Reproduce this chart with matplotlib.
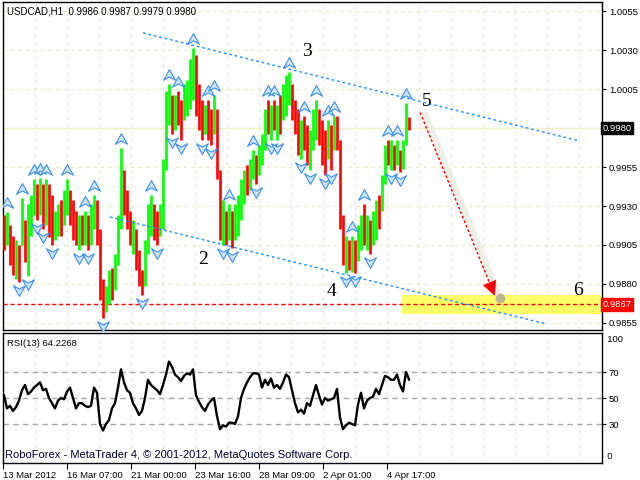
import numpy as np
import matplotlib
matplotlib.use('Agg')
import matplotlib.pyplot as plt
from matplotlib.path import Path
from matplotlib.markers import MarkerStyle
import matplotlib.transforms as mtransforms

# ---------------- data ----------------
symbol = "USDCAD,H1"
last_ohlc = [0.9986, 0.9987, 0.9979, 0.9980]

highs = [0.9924, 0.9926, 0.9918, 0.9911, 0.9908, 0.9905, 0.9935, 0.9921, 0.9931, 0.9937,
         0.9947, 0.9944, 0.9948, 0.9944, 0.9947, 0.9944, 0.9937, 0.9927, 0.9931, 0.9934,
         0.9940, 0.9947, 0.9940, 0.9934, 0.9927, 0.9924, 0.9924, 0.9927, 0.9924, 0.9931,
         0.9937, 0.9934, 0.9915, 0.9883, 0.9879, 0.9889, 0.9890, 0.9899, 0.9924, 0.9967,
         0.9953, 0.9940, 0.9927, 0.9921, 0.9915, 0.9902, 0.9889, 0.9908, 0.9931, 0.9937,
         0.9931, 0.9927, 0.9931, 0.9960, 1.0004, 1.0008, 1.0001, 1.0001, 1.0004, 0.9998,
         1.0008, 1.0011, 1.0024, 1.0031, 1.0027, 1.0008, 0.9998, 0.9995, 0.9998, 0.9992,
         1.0001, 0.9992, 0.9953, 0.9934, 0.9927, 0.9931, 0.9927, 0.9931, 0.9937, 0.9947,
         0.9953, 0.9956, 0.9960, 0.9966, 0.9963, 0.9969, 0.9976, 0.9992, 0.9998, 0.9995,
         0.9998, 0.9995, 1.0001, 1.0008, 1.0014, 1.0016, 1.0008, 0.9998, 0.9992, 0.9985,
         0.9988, 0.9982, 0.9979, 0.9992, 0.9998, 0.9992, 0.9985, 0.9979, 0.9985, 0.9982,
         0.9988, 0.9988, 0.9972, 0.9924, 0.9911, 0.9908, 0.9911, 0.9908, 0.9918, 0.9924,
         0.9931, 0.9924, 0.9921, 0.9927, 0.9934, 0.9937, 0.9950, 0.9969, 0.9972, 0.9972,
         0.9969, 0.9972, 0.9966, 0.9972, 0.9996, 0.9987]

lows = [0.9902, 0.9905, 0.9892, 0.9886, 0.9883, 0.9881, 0.9905, 0.9894, 0.9885, 0.9911,
        0.9924, 0.9921, 0.9924, 0.9915, 0.9918, 0.9910, 0.9905, 0.9908, 0.9911, 0.9911,
        0.9918, 0.9924, 0.9918, 0.9908, 0.9905, 0.9902, 0.9905, 0.9905, 0.9902, 0.9905,
        0.9915, 0.9905, 0.9870, 0.9858, 0.9862, 0.9867, 0.9870, 0.9876, 0.9892, 0.9915,
        0.9924, 0.9915, 0.9905, 0.9899, 0.9889, 0.9879, 0.9873, 0.9879, 0.9899, 0.9911,
        0.9908, 0.9905, 0.9911, 0.9915, 0.9953, 0.9982, 0.9976, 0.9979, 0.9982, 0.9972,
        0.9985, 0.9988, 0.9992, 0.9998, 0.9988, 0.9979, 0.9972, 0.9976, 0.9972, 0.9969,
        0.9976, 0.9947, 0.9908, 0.9905, 0.9905, 0.9908, 0.9903, 0.9908, 0.9911, 0.9921,
        0.9931, 0.9937, 0.9940, 0.9947, 0.9944, 0.9950, 0.9956, 0.9966, 0.9976, 0.9972,
        0.9979, 0.9972, 0.9976, 0.9985, 0.9988, 0.9995, 0.9985, 0.9976, 0.9963, 0.9960,
        0.9966, 0.9956, 0.9953, 0.9966, 0.9972, 0.9969, 0.9956, 0.9950, 0.9960, 0.9953,
        0.9966, 0.9966, 0.9915, 0.9892, 0.9887, 0.9889, 0.9888, 0.9887, 0.9895, 0.9902,
        0.9905, 0.9902, 0.9899, 0.9905, 0.9908, 0.9915, 0.9927, 0.9944, 0.9956, 0.9953,
        0.9953, 0.9956, 0.9952, 0.9954, 0.9969, 0.9979]

# G = bullish bar, R = bearish bar
bar_dirs = ("RGRRGRGRGG" "GRGRGRRGGR" "GGRRRGRGRG" "GRRRGGRGGG" "RRRGRRRGGG"
            "RRGGGGRGRR" "GGGGRRRGRR" "GRRGRGRGGG" "GRGGRGGGRG" "RGRGGGRRRG"
            "RRGGGRRRGR" "GRRRGRGRGG" "RGRGGRGGRG" "RGRGGR")

rsi = [52, 42, 44, 40, 43, 48, 56, 60, 53, 55,
       58, 60, 62, 56, 57, 50, 46, 42, 48, 50,
       49, 55, 58, 50, 42, 46, 46, 44, 43, 44,
       58, 54, 30, 25, 30, 33, 42, 46, 58, 72,
       62, 56, 54, 46, 42, 37, 40, 50, 64, 60,
       58, 56, 53, 60, 68, 78, 74, 68, 66, 63,
       67, 69, 68, 72, 52, 47, 43, 40, 45, 48,
       50, 36, 26, 29, 28, 31, 31, 30, 36, 50,
       57, 62, 66, 69, 69, 68, 58, 64, 60, 65,
       58, 60, 57, 62, 68, 66, 56, 46, 39, 41,
       38, 46, 44, 52, 60, 52, 45, 50, 48, 49,
       50, 57, 35, 26, 29, 31, 30, 29, 45, 54,
       42, 48, 50, 51, 57, 53, 60, 67, 66, 64,
       64, 68, 60, 55, 70, 64.2268]
rsi_period = 13
rsi_levels = [30, 50, 70]

time_labels = ["13 Mar 2012", "16 Mar 07:00", "21 Mar 00:00", "23 Mar 16:00",
               "28 Mar 09:00", "2 Apr 01:00", "4 Apr 17:00"]
price_levels = [1.0055, 1.0030, 1.0005, 0.9980, 0.9955, 0.9930, 0.9905, 0.9880, 0.9855]

target_level = 0.9867
target_zone = [0.9861, 0.9873]
target_zone_start = 132.7

upper_channel_x = [46.3, 191.3]
upper_channel_y = [1.0041, 0.9972]
lower_channel_x = [35.3, 181.0]
lower_channel_y = [0.9923, 0.98543]
forecast_x = [138.7, 163.6]
forecast_y = [0.9990, 0.98725]

wave_labels = ["2", "3", "4", "5", "6"]
wave_x = [66.3, 101.0, 109.3, 141.0, 191.3]
wave_y = [0.9896, 1.0029, 0.9875, 0.9997, 0.9876]

# ---------------- figure ----------------
plt.rcParams['font.family'] = ['Liberation Sans', 'DejaVu Sans']
small = 6.8

fig = plt.figure(figsize=(6.4, 4.8), dpi=100)
ax = fig.add_axes([3 / 640, 150 / 480, 599 / 640, 328 / 480])
ax2 = fig.add_axes([3 / 640, 17 / 480, 599 / 640, 130 / 480])

n = len(highs)
x = np.arange(n)
xmin, xmax = -1 / 3, 598 / 3
label_step = 64 / 3
grid_pos = np.arange(19) * label_step / 2 - 1 / 3
tick_pos = np.arange(len(time_labels)) * label_step - 1 / 3

grid_col = '#EDEBCF'
for a in (ax, ax2):
    a.set_xlim(xmin, xmax)
    for gx in grid_pos:
        a.axvline(gx, color=grid_col, lw=0.9, ls=(0, (3, 3)), zorder=0)
    for s in a.spines.values():
        s.set_color('black')
        s.set_linewidth(1.0)

# main panel
ax.set_ylim(0.98505, 1.00608)
for lv in price_levels:
    ax.axhline(lv, color=grid_col, lw=0.9, ls=(0, (3, 3)), zorder=0)
ax.axhline(last_ohlc[3], color='#F3EFC4', lw=1.0, zorder=0.5)

# target zone
ax.fill_between([target_zone_start, xmax], target_zone[0], target_zone[1],
                color='#FFFF66', lw=0, zorder=1)
ax.axhline(target_level, color='#FF0000', lw=1.0, ls=(0, (3, 2)), zorder=2)

# bars
cols = ['#00FF00' if d == 'G' else '#FF0000' for d in bar_dirs]
ax.vlines(x, lows, highs, colors=cols, lw=1.9, zorder=3)

# fractals
up_path = Path([(0, 0.5), (0.5, -0.4), (0, -0.12), (-0.5, -0.4), (0, 0.5)],
               [Path.MOVETO, Path.LINETO, Path.LINETO, Path.LINETO, Path.CLOSEPOLY])
dn_path = Path([(0, -0.5), (0.5, 0.4), (0, 0.12), (-0.5, 0.4), (0, -0.5)],
               [Path.MOVETO, Path.LINETO, Path.LINETO, Path.LINETO, Path.CLOSEPOLY])
h = np.array(highs)
l = np.array(lows)
up_idx = [i for i in range(1, n - 1) if h[i] > h[i - 1] and h[i] >= h[i + 1]]
dn_idx = [i for i in range(1, n - 1) if l[i] < l[i - 1] and l[i] <= l[i + 1]]
tr_up = mtransforms.offset_copy(ax.transData, fig=fig, y=9, units='dots')
tr_dn = mtransforms.offset_copy(ax.transData, fig=fig, y=-8, units='dots')
ax.plot(x[up_idx], h[up_idx], ls='none', marker=MarkerStyle(up_path), ms=8.5,
        mfc='#CFE6FF', mec='#3C8FEA', mew=0.8, transform=tr_up, zorder=4)
ax.plot(x[dn_idx], l[dn_idx], ls='none', marker=MarkerStyle(dn_path), ms=8.5,
        mfc='#CFE6FF', mec='#3C8FEA', mew=0.8, transform=tr_dn, zorder=4)

# channel lines
ax.plot(upper_channel_x, upper_channel_y, color='#1E90FF', lw=1.0, ls=(0, (2, 2)), zorder=5)
ax.plot(lower_channel_x, lower_channel_y, color='#1E90FF', lw=1.0, ls=(0, (2, 2)), zorder=5)

# forecast arrow (with soft shadow)
tr_sh = mtransforms.offset_copy(ax.transData, fig=fig, x=5, y=-2, units='dots')
ax.plot(forecast_x, forecast_y, color='#EFEFE8', lw=4.5, solid_capstyle='round',
        transform=tr_sh, zorder=5)
ax.plot([forecast_x[1]], [forecast_y[1]], 'o', ms=6, mfc='#BDB690', mec='#BDB690',
        transform=tr_sh, zorder=5)
ax.plot(forecast_x, forecast_y, color='#FF0000', lw=1.0, ls=(0, (2, 1.5)), zorder=6)
ax.annotate('', xy=(forecast_x[1], forecast_y[1]),
            xytext=(forecast_x[1] - 0.035 * (forecast_x[1] - forecast_x[0]),
                    forecast_y[1] - 0.035 * (forecast_y[1] - forecast_y[0])),
            arrowprops=dict(arrowstyle='-|>,head_length=0.9,head_width=0.45',
                            color='#FF0000', lw=0.8, shrinkA=0, shrinkB=0), zorder=7)

for t, wx, wy in zip(wave_labels, wave_x, wave_y):
    ax.text(wx, wy, t, fontsize=14, family=['Liberation Serif', 'DejaVu Serif'],
            ha='center', va='center', color='black', zorder=8)

# axis ticks
ax.yaxis.tick_right()
ax.set_yticks(price_levels)
ax.set_yticklabels(['' if abs(v - last_ohlc[3]) < 1e-9 else f"{v:.4f}" for v in price_levels])
ax.tick_params(axis='y', direction='out', length=3, width=0.8, pad=2, labelsize=small,
               colors='black')
ax.set_xticks([])
ax.text(1.0008, last_ohlc[3], f"{last_ohlc[3]:.4f}", transform=ax.get_yaxis_transform(),
        color='white', fontsize=small, ha='left', va='center', clip_on=False,
        bbox=dict(boxstyle='square,pad=0.2', fc='black', ec='black'), zorder=10)
ax.text(1.0008, target_level, f"{target_level:.4f}", transform=ax.get_yaxis_transform(),
        color='white', fontsize=small, ha='left', va='center', clip_on=False,
        bbox=dict(boxstyle='square,pad=0.2', fc='#FF0000', ec='#FF0000'), zorder=10)
ax.text(4 / 599, 1 - 9 / 328, symbol + "  " + " ".join(f"{v:.4f}" for v in last_ohlc),
        transform=ax.transAxes, fontsize=small + 0.2, ha='left', va='center', color='black')

# RSI panel
ax2.set_ylim(0, 100)
for lv in rsi_levels:
    ax2.axhline(lv, color='#A8A8A8', lw=1.0, ls=(0, (4, 3)), zorder=1)
ax2.plot(x, rsi, color='black', lw=1.7, zorder=3)
ax2.yaxis.tick_right()
ax2.set_yticks(rsi_levels)
ax2.set_yticklabels([str(v) for v in rsi_levels])
ax2.tick_params(axis='y', direction='out', length=3, width=0.8, pad=2, labelsize=small)
ax2.text(1.0, 95, "  100", transform=ax2.get_yaxis_transform(), fontsize=small,
         ha='left', va='center', clip_on=False)
ax2.text(1.0, 5, "  0", transform=ax2.get_yaxis_transform(), fontsize=small,
         ha='left', va='center', clip_on=False)
ax2.set_xticks(tick_pos)
ax2.set_xticklabels(time_labels)
ax2.tick_params(axis='x', direction='out', length=4, width=0.8, pad=2, labelsize=small)
for lab in ax2.get_xticklabels():
    lab.set_horizontalalignment('left')
ax2.text(4 / 599, 1 - 11 / 130, f"RSI({rsi_period}) {rsi[-1]:.4f}", transform=ax2.transAxes,
         fontsize=small, ha='left', va='center')
ax2.text(2 / 599, 0.065, "RoboForex - MetaTrader 4, \u00a9 2001-2012, MetaQuotes Software Corp.",
         transform=ax2.transAxes, fontsize=8, ha='left', va='center', color='#000033')

fig.savefig('out.png', dpi=100, facecolor='white')
